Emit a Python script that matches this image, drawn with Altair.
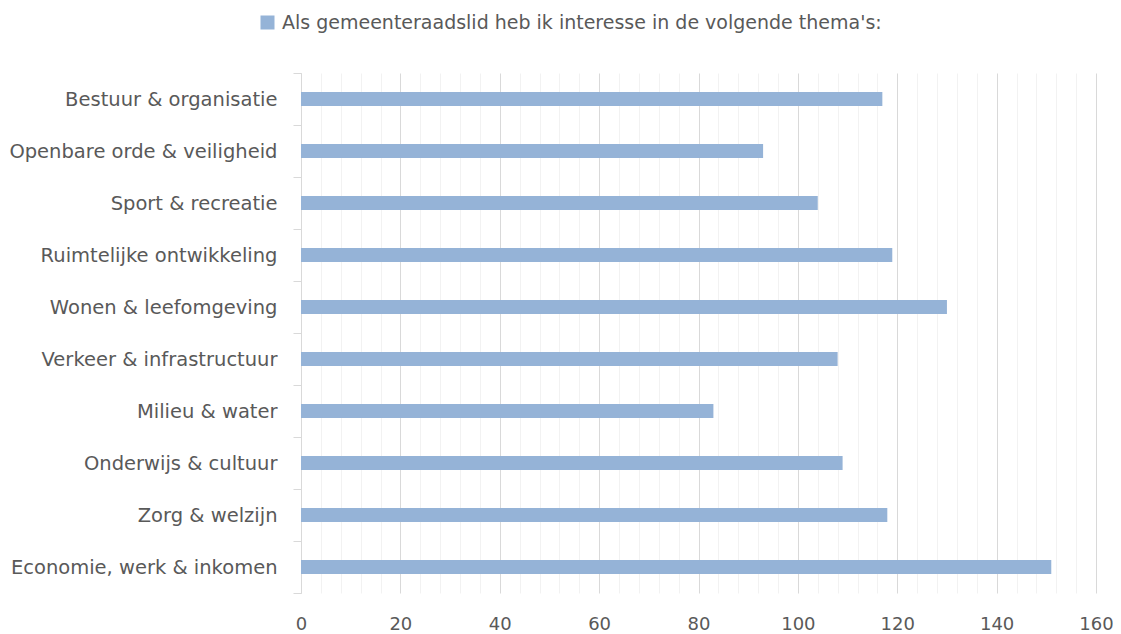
import altair as alt
import pandas as pd

themes = [
    "Bestuur & organisatie",
    "Openbare orde & veiligheid",
    "Sport & recreatie",
    "Ruimtelijke ontwikkeling",
    "Wonen & leefomgeving",
    "Verkeer & infrastructuur",
    "Milieu & water",
    "Onderwijs & cultuur",
    "Zorg & welzijn",
    "Economie, werk & inkomen",
]
values = [117, 93, 104, 119, 130, 108, 83, 109, 118, 151]
series_name = "Als gemeenteraadslid heb ik interesse in de volgende thema's:"

df = pd.DataFrame({"thema": themes, "aantal": values, "reeks": [series_name] * len(themes)})

FONT = "DejaVu Sans"
GRAY = "#595959"

chart = (
    alt.Chart(df)
    .mark_bar(size=14)
    .encode(
        x=alt.X(
            "aantal:Q",
            scale=alt.Scale(domain=[0, 160], nice=False),
            axis=alt.Axis(
                values=list(range(0, 161, 4)),
                labelExpr="datum.value % 20 === 0 ? datum.label : ''",
                ticks=False,
                domain=False,
                grid=True,
                gridColor={"condition": {"test": "datum.value % 20 === 0", "value": "#D9D9D9"}, "value": "#F2F2F2"},
                gridWidth=1,
                labelFont=FONT,
                labelFontSize=18,
                labelColor=GRAY,
                labelPadding=22,
                labelFlush=False,
                labelOverlap=False,
                title=None,
            ),
        ),
        y=alt.Y(
            "thema:N",
            sort=themes,
            scale=alt.Scale(paddingInner=0, paddingOuter=0),
            axis=alt.Axis(
                tickBand="extent",
                tickSize=8,
                tickColor="#D9D9D9",
                domainColor="#D9D9D9",
                labelFont=FONT,
                labelFontSize=19.5,
                labelColor=GRAY,
                labelPadding=16,
                labelLimit=0,
                grid=False,
                title=None,
            ),
        ),
        color=alt.Color(
            "reeks:N",
            scale=alt.Scale(range=["#95B3D7"]),
            legend=alt.Legend(
                orient="none",
                legendX=-43,
                legendY=-60,
                title=None,
                symbolType="square",
                symbolSize=196,
                symbolStrokeWidth=0,
                labelFont=FONT,
                labelFontSize=19,
                labelColor=GRAY,
                labelOffset=5,
                labelLimit=0,
                padding=0,
            ),
        ),
    )
    .properties(
        width=795,
        height=520,
        autosize=alt.AutoSizeParams(type="none"),
        padding={"left": 293, "top": 65, "right": 17, "bottom": 42},
    )
    .configure_view(stroke=None)
)

chart.save("out.html", embed_options={"renderer": "svg", "actions": False})
